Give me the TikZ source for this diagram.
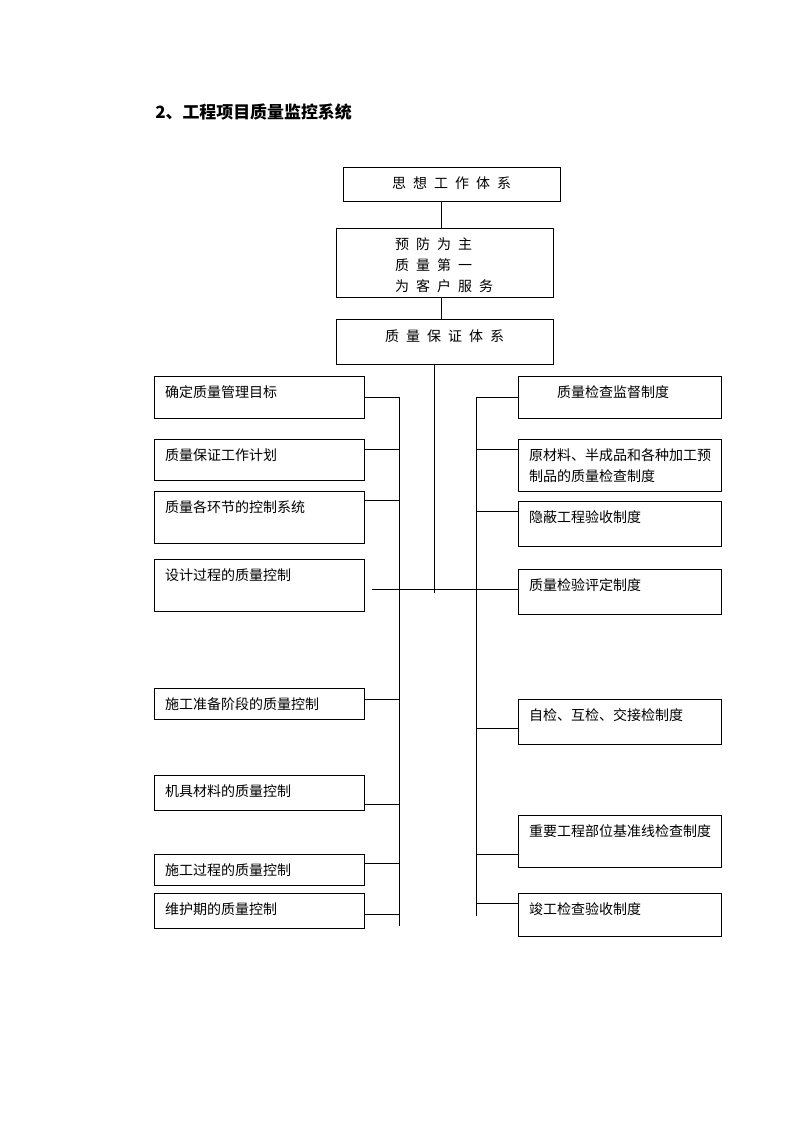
\documentclass[tikz,border=0pt]{standalone}
\usepackage{fontspec}
\newfontfamily\cjk{Noto Sans CJK SC}
\usepackage{tikz}
\newcommand{\chargap}{\hspace{5.25pt}}
\newcommand{\boxfont}{\cjk\fontsize{10.5pt}{15.75pt}\selectfont}
\tikzset{
  lbox/.style={draw, line width=.7pt, anchor=north west, outer sep=0pt,
    inner xsep=8.25pt, inner ysep=0pt, text width=141pt, align=left,
    font=\boxfont, text height=16pt, text depth=#1},
  rbox/.style={lbox=#1, text width=135.75pt},
  tbox/.style={draw, line width=.7pt, anchor=north west, outer sep=0pt,
    inner sep=0pt, minimum width=162.75pt, font=\boxfont, text depth=#1},
  link/.style={line width=.7pt}
}
\begin{document}
\begin{tikzpicture}[x=.75pt, y=-.75pt]
  \useasboundingbox (0,0) rectangle (794,1123);
  \node[anchor=west, inner sep=0pt, font=\cjk\bfseries\fontsize{12.7pt}{15pt}\selectfont] (title) at (155,112) {2、工程项目质量监控系统};

  % top column
  \node[tbox=9pt, text height=16.5pt, align=center] (t1) at (343,167)
    {思\chargap 想\chargap 工\chargap 作\chargap 体\chargap 系};
  \node[tbox=35.75pt, text height=16pt, inner xsep=44.25pt, text width=74.25pt, align=left] (t2) at (336,228)
    {预\chargap 防\chargap 为\chargap 主\\质\chargap 量\chargap 第\chargap 一\\为\chargap 客\chargap 户\chargap 服\chargap 务};
  \node[tbox=17.25pt, text height=16.5pt, align=center] (t3) at (336,319)
    {质\chargap 量\chargap 保\chargap 证\chargap 体\chargap 系};
  \draw[link] (t1.south -| 441,0) -- (t2.north -| 441,0);
  \draw[link] (t2.south -| 441,0) -- (t3.north -| 441,0);

  % left column
  \node[lbox=15.5pt] (l1) at (154,376) {确定质量管理目标};
  \node[lbox=14.75pt] (l2) at (154,439) {质量保证工作计划};
  \node[lbox=23pt] (l3) at (154,491) {质量各环节的控制系统};
  \node[lbox=23pt] (l4) at (154,559) {设计过程的质量控制};
  \node[lbox=7.25pt] (l5) at (154,688) {施工准备阶段的质量控制};
  \node[lbox=10.25pt] (l6) at (154,775) {机具材料的质量控制};
  \node[lbox=7.25pt] (l7) at (154,854) {施工过程的质量控制};
  \node[lbox=10.25pt] (l8) at (154,893) {维护期的质量控制};

  % right column
  \node[rbox=15.5pt] (r1) at (518,376) {\hspace*{21pt}质量检查监督制度};
  \node[rbox=23pt] (r2) at (518,439) {原材料、半成品和各种加工预\\制品的质量检查制度};
  \node[rbox=17.75pt] (r3) at (518,501) {隐蔽工程验收制度};
  \node[rbox=17.75pt] (r4) at (518,569) {质量检验评定制度};
  \node[rbox=17.75pt] (r5) at (518,699) {自检、互检、交接检制度};
  \node[rbox=23pt] (r6) at (518,815) {重要工程部位基准线检查制度};
  \node[rbox=16.25pt] (r7) at (518,893) {竣工检查验收制度};

  % buses
  \coordinate (lbt) at (399,397);
  \coordinate (lbb) at (399,926);
  \coordinate (rbt) at (476,397);
  \coordinate (rbb) at (476,916);
  \coordinate (cend) at (434,593);
  \coordinate (hl) at (372,589);
  \draw[link] (lbt) -- (lbb);
  \draw[link] (rbt) -- (rbb);
  \draw[link] (t3.south -| cend) -- (cend);
  \draw[link] (hl) -- (r4.west |- hl);
  \foreach \b/\y in {l1/397, l2/449, l3/500, l5/699, l6/804, l7/863, l8/914}
    \draw[link] (\b.east |- 0,\y) -- (lbt |- 0,\y);
  \foreach \b/\y in {r1/397, r2/449, r3/511, r5/728, r6/854, r7/903}
    \draw[link] (rbt |- 0,\y) -- (\b.west |- 0,\y);
\end{tikzpicture}
\end{document}
